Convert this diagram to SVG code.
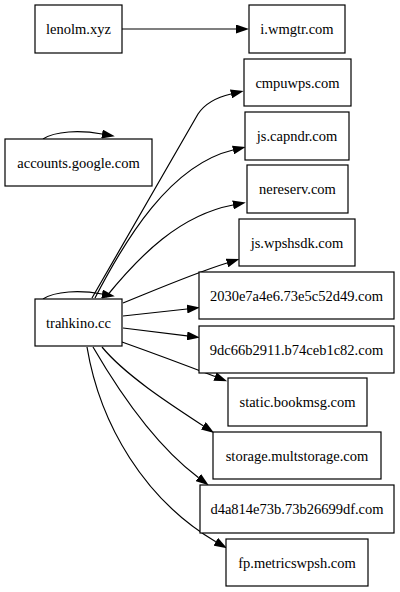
<svg xmlns="http://www.w3.org/2000/svg" width="400" height="592" viewBox="0 0 400 592">
<style>
.n rect{fill:#fff;stroke:#000;stroke-width:1.2}
.n text{font-family:"Liberation Serif","Times New Roman",serif;font-size:14.5px;fill:#000;text-anchor:middle}
.e path{fill:none;stroke:#000;stroke-width:1.2}
</style>
<defs>
<marker id="ah" viewBox="0 0 13 9" refX="0" refY="4.5" markerWidth="13" markerHeight="9" markerUnits="userSpaceOnUse" orient="auto">
<path d="M0,0 L13,4.5 L0,9 z" fill="#000"/>
</marker>
</defs>
<rect width="400" height="592" fill="#fff"/>
<g class="e" id="edges">
<path marker-end="url(#ah)" d="M122,29 L236,29"/>
<path marker-end="url(#ah)" d="M43,139 C55,131 80,130 102,134"/>
<path marker-end="url(#ah)" d="M43,299 C55,291 80,290 102,294"/>
<path marker-end="url(#ah)" d="M92,298 L198,114 C206,102 218,97 231,94"/>
<path marker-end="url(#ah)" d="M95,298 C125,240 170,165 233,150"/>
<path marker-end="url(#ah)" d="M106,297 C140,255 180,215 233,205"/>
<path marker-end="url(#ah)" d="M123,303 C160,288 195,273 227,263"/>
<path marker-end="url(#ah)" d="M123,316 L187,309"/>
<path marker-end="url(#ah)" d="M123,328 L187,335.9"/>
<path marker-end="url(#ah)" d="M122,342 C150,352 185,365 215,376.5"/>
<path marker-end="url(#ah)" d="M102,347 C125,375 170,404 203.3,425.8"/>
<path marker-end="url(#ah)" d="M93,347 C118,390 155,445 198.3,477.5"/>
<path marker-end="url(#ah)" d="M87,347 C100,425 145,500 215.8,541.7"/>
</g>
<g class="n" id="lenolm"><rect x="35" y="5" width="87" height="48"/><text x="78.5" y="34">lenolm.xyz</text></g>
<g class="n" id="iwmgtr"><rect x="249" y="5" width="96" height="48"/><text x="297" y="34">i.wmgtr.com</text></g>
<g class="n" id="cmpuwps"><rect x="244" y="59" width="107" height="47"/><text x="297.5" y="87.5">cmpuwps.com</text></g>
<g class="n" id="jscapndr"><rect x="245" y="112" width="104" height="48"/><text x="297" y="141">js.capndr.com</text></g>
<g class="n" id="nereserv"><rect x="247" y="165" width="101" height="48"/><text x="297.5" y="194">nereserv.com</text></g>
<g class="n" id="accounts"><rect x="5" y="139" width="147" height="47"/><text x="78.5" y="167.5">accounts.google.com</text></g>
<g class="n" id="jswpshsdk"><rect x="239" y="219" width="116" height="47"/><text x="297" y="247.5">js.wpshsdk.com</text></g>
<g class="n" id="trahkino"><rect x="35" y="299" width="87" height="47"/><text x="78.5" y="327.5">trahkino.cc</text></g>
<g class="n" id="n2030"><rect x="199" y="272" width="195" height="47"/><text x="296.5" y="300.5">2030e7a4e6.73e5c52d49.com</text></g>
<g class="n" id="n9dc66"><rect x="199" y="326" width="195" height="47"/><text x="296.5" y="354.5">9dc66b2911.b74ceb1c82.com</text></g>
<g class="n" id="static"><rect x="228" y="378" width="139" height="48"/><text x="297.5" y="407">static.bookmsg.com</text></g>
<g class="n" id="storage"><rect x="213" y="432" width="168" height="47"/><text x="297" y="460.5">storage.multstorage.com</text></g>
<g class="n" id="d4a8"><rect x="200" y="485" width="194" height="48"/><text x="297" y="514">d4a814e73b.73b26699df.com</text></g>
<g class="n" id="fp"><rect x="226" y="539" width="142" height="47"/><text x="297" y="567.5">fp.metricswpsh.com</text></g>
</svg>
